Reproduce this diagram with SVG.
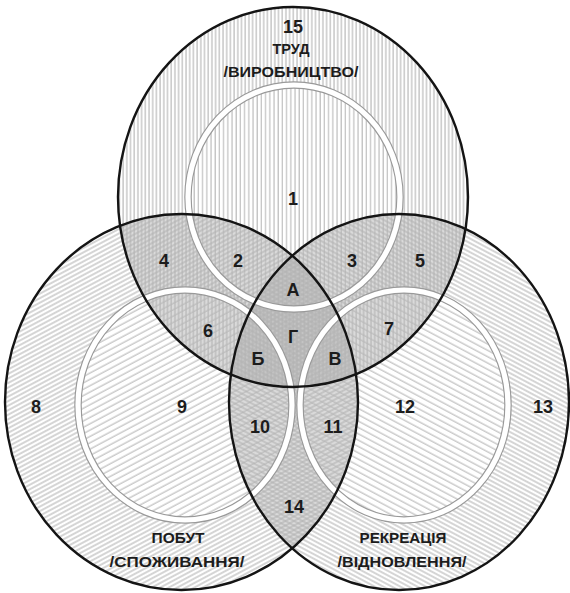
<svg xmlns="http://www.w3.org/2000/svg" width="570" height="593" viewBox="0 0 570 593">
<style>
  .num{font-family:"Liberation Sans",Arial,sans-serif;font-weight:bold;font-size:18px;fill:#1c1c1c;text-anchor:middle}
  .lbl{font-family:"Liberation Sans",Arial,sans-serif;font-weight:bold;font-size:14.5px;fill:#1c1c1c;text-anchor:middle}
  .outline{fill:none;stroke:#141414;stroke-width:2.4}
  .ringEdge{fill:none;stroke:#999999;stroke-width:7.5}
  .ring{fill:none;stroke:#ffffff;stroke-width:5.2}
  .ov2{fill:#dadada}
  .ov3{fill:#c4c4c4}
</style>
<defs>
  <pattern id="pV" patternUnits="userSpaceOnUse" width="3.7" height="10">
    <line x1="1" y1="0" x2="1" y2="10" stroke="#b3b3b3" stroke-width="1.1"/>
  </pattern>
  <pattern id="pVi" patternUnits="userSpaceOnUse" width="4.2" height="10">
    <line x1="1" y1="0" x2="1" y2="10" stroke="#b8b8b8" stroke-width="1.1"/>
  </pattern>
  <pattern id="pL" patternUnits="userSpaceOnUse" width="10" height="4" patternTransform="rotate(-28)">
    <line x1="0" y1="2" x2="10" y2="2" stroke="#b3b3b3" stroke-width="1.1"/>
  </pattern>
  <pattern id="pLi" patternUnits="userSpaceOnUse" width="10" height="5.6" patternTransform="rotate(-28)">
    <line x1="0" y1="2" x2="10" y2="2" stroke="#b8b8b8" stroke-width="1.1"/>
  </pattern>
  <pattern id="pR" patternUnits="userSpaceOnUse" width="10" height="4" patternTransform="rotate(28)">
    <line x1="0" y1="2" x2="10" y2="2" stroke="#b3b3b3" stroke-width="1.1"/>
  </pattern>
  <pattern id="pRi" patternUnits="userSpaceOnUse" width="10" height="5.6" patternTransform="rotate(28)">
    <line x1="0" y1="2" x2="10" y2="2" stroke="#b8b8b8" stroke-width="1.1"/>
  </pattern>
  <clipPath id="cT"><ellipse cx="293" cy="197" rx="175" ry="190"/></clipPath>
  <clipPath id="cL"><ellipse cx="181.5" cy="402" rx="176.5" ry="188"/></clipPath>
</defs>

<rect x="0" y="0" width="570" height="593" fill="#ffffff"/>

<g id="overlaps">
  <g clip-path="url(#cT)"><ellipse class="ov2" cx="181.5" cy="402" rx="176.5" ry="188"/></g>
  <g clip-path="url(#cT)"><ellipse class="ov2" cx="399" cy="402" rx="170" ry="188"/></g>
  <g clip-path="url(#cL)"><ellipse class="ov2" cx="399" cy="402" rx="170" ry="188"/></g>
  <g clip-path="url(#cT)"><g clip-path="url(#cL)"><ellipse class="ov3" cx="399" cy="402" rx="170" ry="188"/></g></g>
</g>

<g id="hatching">
  <path fill="url(#pV)" fill-rule="evenodd" d="M118 197 A175 190 0 1 0 468 197 A175 190 0 1 0 118 197 Z M188 197 A106 112 0 1 0 400 197 A106 112 0 1 0 188 197 Z"/>
  <ellipse fill="url(#pVi)" cx="294" cy="197" rx="106" ry="112"/>
  <path fill="url(#pL)" fill-rule="evenodd" d="M5 402 A176.5 188 0 1 0 358 402 A176.5 188 0 1 0 5 402 Z M78 405 A107 115 0 1 0 292 405 A107 115 0 1 0 78 405 Z"/>
  <ellipse fill="url(#pLi)" cx="185" cy="405" rx="107" ry="115"/>
  <path fill="url(#pR)" fill-rule="evenodd" d="M229 402 A170 188 0 1 0 569 402 A170 188 0 1 0 229 402 Z M300 405 A104 115 0 1 0 508 405 A104 115 0 1 0 300 405 Z"/>
  <ellipse fill="url(#pRi)" cx="404" cy="405" rx="104" ry="115"/>
</g>

<g id="inner-rings">
  <ellipse class="ringEdge" cx="294" cy="197" rx="106" ry="112"/>
  <ellipse class="ringEdge" cx="185" cy="405" rx="107" ry="115"/>
  <ellipse class="ringEdge" cx="404" cy="405" rx="104" ry="115"/>
  <ellipse class="ring" cx="294" cy="197" rx="106" ry="112"/>
  <ellipse class="ring" cx="185" cy="405" rx="107" ry="115"/>
  <ellipse class="ring" cx="404" cy="405" rx="104" ry="115"/>
</g>

<g id="set-trud">
  <ellipse class="outline" cx="293" cy="197" rx="175" ry="190"/>
  <text class="num" x="293" y="33" font-size="19">15</text>
  <text class="lbl" x="291" y="54">ТРУД</text>
  <text class="lbl" x="291" y="77" textLength="135" lengthAdjust="spacingAndGlyphs">/ВИРОБНИЦТВО/</text>
</g>
<g id="set-pobut">
  <ellipse class="outline" cx="181.5" cy="402" rx="176.5" ry="188"/>
  <text class="lbl" x="178" y="543" textLength="53" lengthAdjust="spacingAndGlyphs">ПОБУТ</text>
  <text class="lbl" x="177" y="567" textLength="135" lengthAdjust="spacingAndGlyphs">/СПОЖИВАННЯ/</text>
</g>
<g id="set-rekreatsiya">
  <ellipse class="outline" cx="399" cy="402" rx="170" ry="188"/>
  <text class="lbl" x="403" y="543" textLength="87" lengthAdjust="spacingAndGlyphs">РЕКРЕАЦІЯ</text>
  <text class="lbl" x="402" y="567" textLength="129" lengthAdjust="spacingAndGlyphs">/ВІДНОВЛЕННЯ/</text>
</g>

<g id="region-labels">
  <text class="num" x="293" y="205">1</text>
  <text class="num" x="238" y="267">2</text>
  <text class="num" x="352" y="267">3</text>
  <text class="num" x="164" y="267">4</text>
  <text class="num" x="420" y="267">5</text>
  <text class="num" x="208" y="337">6</text>
  <text class="num" x="389" y="335">7</text>
  <text class="num" x="36" y="413">8</text>
  <text class="num" x="182" y="413">9</text>
  <text class="num" x="260" y="433">10</text>
  <text class="num" x="333" y="433">11</text>
  <text class="num" x="405" y="413">12</text>
  <text class="num" x="543" y="413">13</text>
  <text class="num" x="294" y="513">14</text>
  <text class="num" x="293" y="296">А</text>
  <text class="num" x="293" y="343">Г</text>
  <text class="num" x="258" y="365">Б</text>
  <text class="num" x="335" y="365">В</text>
</g>
</svg>
